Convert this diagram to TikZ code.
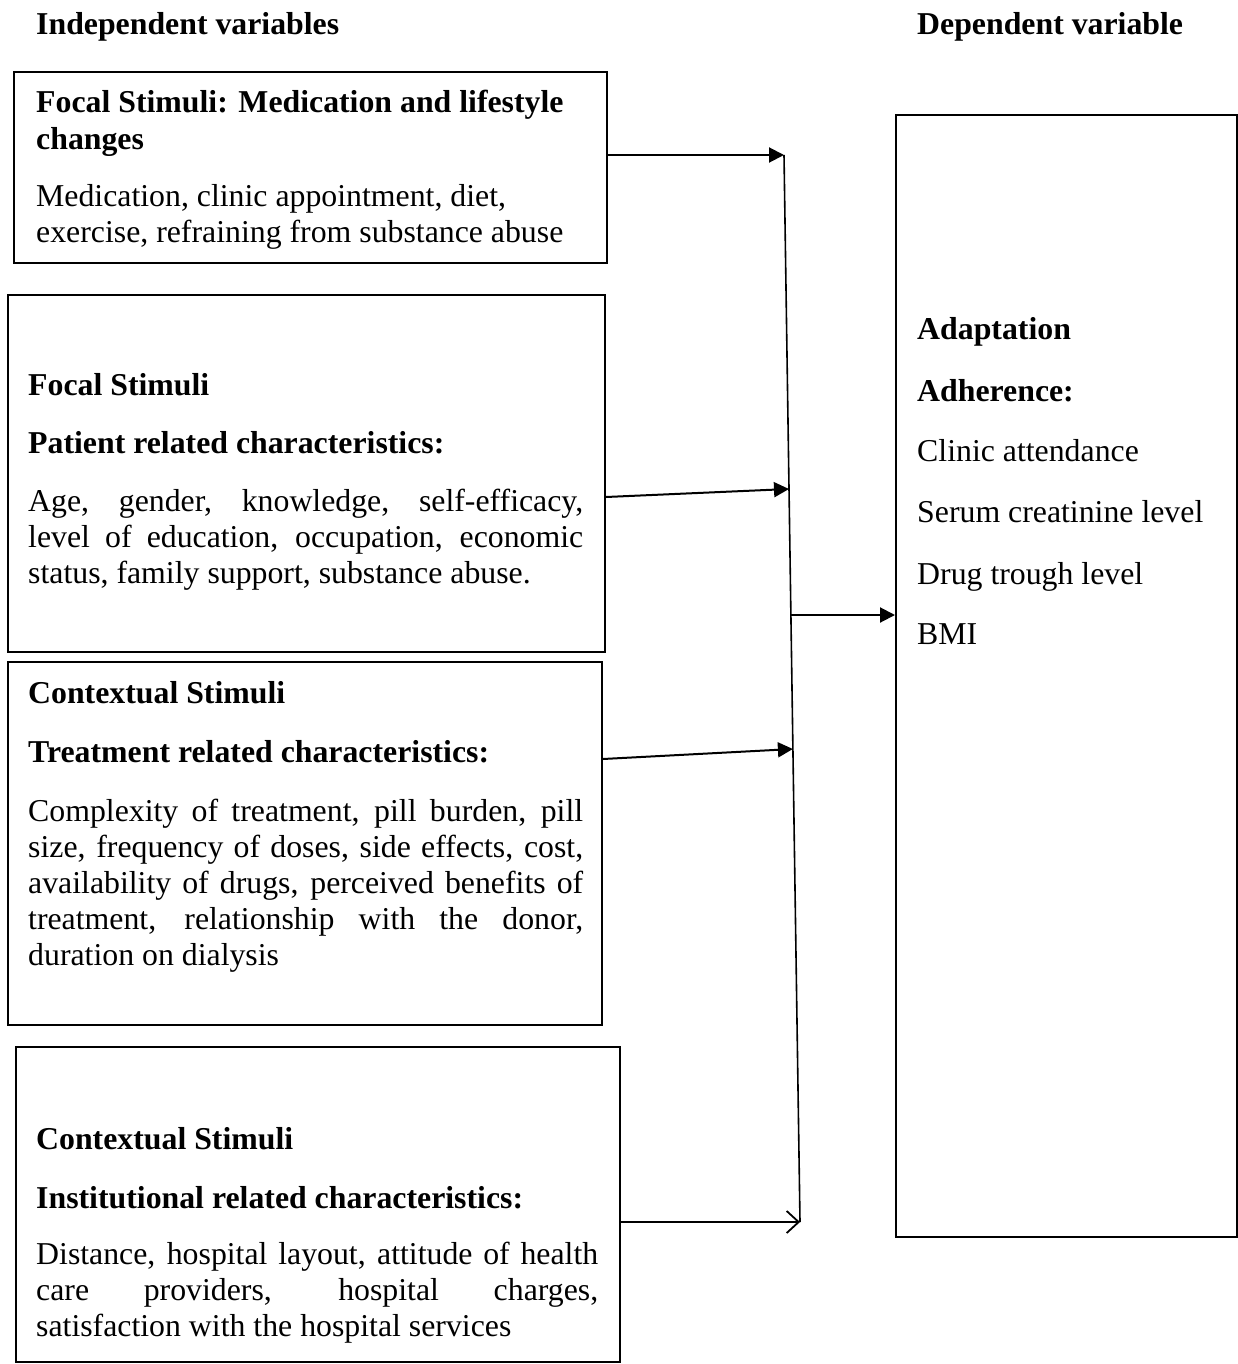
\documentclass[tikz,border=0pt]{standalone}
\usepackage{fontspec}
\setmainfont{Liberation Serif}
\usetikzlibrary{arrows.meta}
\newcommand\bodyfnt{\fontsize{31.8}{36}\selectfont}
\newcommand\jl[2]{\makebox[#1][s]{#2}}
\begin{document}
\begin{tikzpicture}[x=1pt,y=-1pt,
  box/.style={draw, line width=2pt, inner sep=0pt},
  txt/.style={anchor=base west, inner sep=0pt, font=\bodyfnt},
  hd/.style={txt, font=\bodyfnt\bfseries},
  arr/.style={line width=2pt, -{Triangle[length=15pt,width=15pt]}},
  oarr/.style={line width=2pt, -{Straight Barb[length=12pt,width=22pt,line width=1.8pt]}},
  vline/.style={line width=1.6pt}]
\useasboundingbox (0,0) rectangle (1238,1364);
% headers
\node[hd] (h1) at (36,35) {Independent variables};
\node[hd] (h2) at (917,35) {Dependent variable};
% boxes
\node[box, minimum width=593pt, minimum height=191pt] (b1) at (310.5,167.5) {};
\node[box, minimum width=597pt, minimum height=357pt] (b2) at (306.5,473.5) {};
\node[box, minimum width=594pt, minimum height=363pt] (b3) at (305,843.5) {};
\node[box, minimum width=604pt, minimum height=315pt] (b4) at (318,1204.5) {};
\node[box, minimum width=341pt, minimum height=1122pt] (big) at (1066.5,676) {};
% box 1 text
\node[hd] (t1a) at (36,113) {Focal Stimuli: Medication and lifestyle};
\node[hd] (t1b) at (36,150) {changes};
\node[txt] (t1c) at (36,207) {Medication, clinic appointment, diet,};
\node[txt] (t1d) at (36,243) {exercise, refraining from substance abuse};
% box 2 text
\node[hd] (t2a) at (28,395) {Focal Stimuli};
\node[hd] (t2b) at (28,453) {Patient related characteristics:};
\node[txt] (t2c) at (28,511) {\jl{555pt}{Age, gender, knowledge, self-efficacy,}};
\node[txt] (t2d) at (28,547) {\jl{555pt}{level of education, occupation, economic}};
\node[txt] (t2e) at (28,583) {status, family support, substance abuse.};
% box 3 text
\node[hd] (t3a) at (28,703) {Contextual Stimuli};
\node[hd] (t3b) at (28,762) {Treatment related characteristics:};
\node[txt] (t3c) at (28,821) {\jl{555pt}{Complexity of treatment, pill burden, pill}};
\node[txt] (t3d) at (28,857) {\jl{555pt}{size, frequency of doses, side effects, cost,}};
\node[txt] (t3e) at (28,893) {\jl{555pt}{availability of drugs, perceived benefits of}};
\node[txt] (t3f) at (28,929) {\jl{555pt}{treatment, relationship with the donor,}};
\node[txt] (t3g) at (28,965) {duration on dialysis};
% box 4 text
\node[hd] (t4a) at (36,1149) {Contextual Stimuli};
\node[hd] (t4b) at (36,1208) {Institutional related characteristics:};
\node[txt] (t4c) at (36,1264) {\jl{562pt}{Distance, hospital layout, attitude of health}};
\node[txt] (t4d) at (36,1300) {\jl{562pt}{care providers, hospital charges,}};
\node[txt] (t4e) at (36,1336) {satisfaction with the hospital services};
% big box text
\node[hd] (d1) at (917,339) {Adaptation};
\node[hd] (d2) at (917,401) {Adherence:};
\node[txt] (d3) at (917,461) {Clinic attendance};
\node[txt] (d4) at (917,522) {Serum creatinine level};
\node[txt] (d5) at (917,584) {Drug trough level};
\node[txt] (d6) at (917,644) {BMI};
% vertical collector line
\coordinate (vtop) at (784,155);
\coordinate (v2) at (789,489);
\coordinate (vmid) at (790.9,615);
\coordinate (v3) at (792.9,749);
\coordinate (vbot) at (800,1222);
\draw[vline] (vtop) -- (vbot);
% arrows
\draw[arr] ([yshift=12.5pt]b1.east) -- (vtop);
\draw[arr] ([yshift=-23.5pt]b2.east) -- (v2);
\draw[arr] ([yshift=84.5pt]b3.east) -- (v3);
\draw[arr] (vmid) -- ([yshift=61pt]big.west);
\draw[oarr] ([yshift=-17.5pt]b4.east) -- (vbot);
\end{tikzpicture}
\end{document}
